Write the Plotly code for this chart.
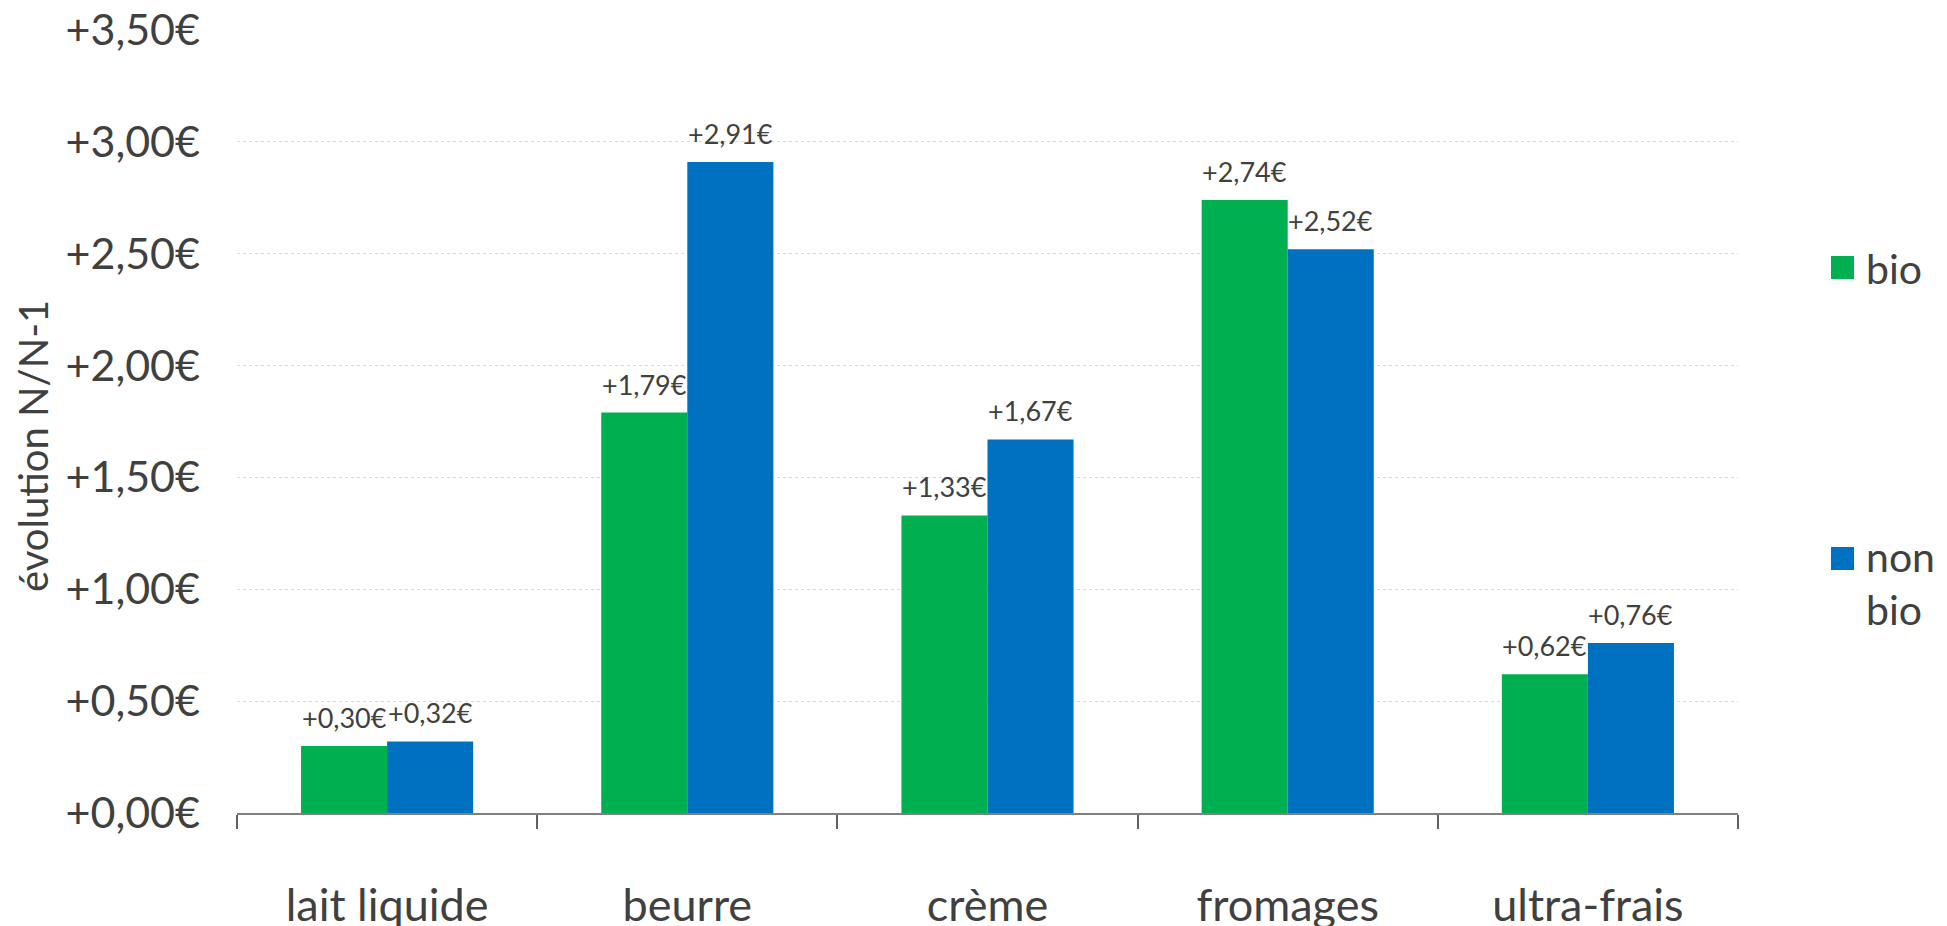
import plotly.graph_objects as go

categories = ["lait liquide", "beurre", "crème", "fromages", "ultra-frais"]
series_names = ["bio", "non bio"]
bio_values = [0.30, 1.79, 1.33, 2.74, 0.62]
nonbio_values = [0.32, 2.91, 1.67, 2.52, 0.76]
tick_vals = [0, 0.5, 1.0, 1.5, 2.0, 2.5, 3.0, 3.5]
tick_text = ["+0,00€", "+0,50€", "+1,00€", "+1,50€", "+2,00€", "+2,50€", "+3,00€", "+3,50€"]
y_title = "évolution N/N-1"

colors = ["#00B050", "#0070C0"]
text_color = "#404040"
FONT = "Lato"

W, H = 1947, 926
ML, MR, MT, MB = 237, 209, 30, 113
plot_w = W - ML - MR
plot_h = H - MT - MB
bargap = 0.4267

def fmt(v):
    return "+" + f"{v:.2f}".replace(".", ",") + "€"

fig = go.Figure()
all_series = [bio_values, nonbio_values]
for name, vals, col in zip(series_names, all_series, colors):
    fig.add_trace(go.Bar(
        x=categories, y=vals, name=name,
        marker=dict(color=col, line=dict(width=0)),
        showlegend=False,
    ))

# data labels
cat_px = plot_w / len(categories)
bar_px = (1 - bargap) * cat_px / len(all_series)
annotations = []
for i, vals in enumerate(all_series):
    off = (i - (len(all_series) - 1) / 2) * bar_px
    for c, v in zip(categories, vals):
        annotations.append(dict(
            x=c, y=v, xref="x", yref="y", text=fmt(v), showarrow=False,
            xanchor="center", yanchor="bottom", xshift=off, yshift=10,
            font=dict(family=FONT, size=27, color=text_color),
        ))

# y axis title
annotations.append(dict(
    x=0, y=(813 - 446) / plot_h, xref="paper", yref="paper", text=y_title,
    showarrow=False, textangle=-90, xanchor="center", yanchor="middle",
    xshift=-(ML - 33), font=dict(family=FONT, size=40, color=text_color),
))

def px_x(p):
    return (p - ML) / plot_w

def px_y(p):
    return (MT + plot_h - p) / plot_h

# manual legend
shapes = []
legend_rows = [(256, 279, 268, "bio"), (547, 570, 583, "non<br>bio")]
for (top, bot, tc, label), col in zip(legend_rows, colors):
    shapes.append(dict(type="rect", xref="paper", yref="paper",
                       x0=px_x(1831), x1=px_x(1854), y0=px_y(bot), y1=px_y(top),
                       fillcolor=col, line=dict(width=0)))
    annotations.append(dict(x=px_x(1864), y=px_y(tc), xref="paper", yref="paper",
                            text=label, showarrow=False, xanchor="left", yanchor="middle",
                            align="left", font=dict(family=FONT, size=41, color=text_color)))

fig.update_layout(
    width=W, height=H,
    margin=dict(l=ML, r=MR, t=MT, b=MB, autoexpand=False),
    paper_bgcolor="white", plot_bgcolor="white",
    barmode="group", bargap=bargap, bargroupgap=0,
    font=dict(family=FONT, color=text_color),
    annotations=annotations, shapes=shapes,
    showlegend=False,
)
fig.update_xaxes(
    type="category", showline=True, linecolor="#808080", linewidth=1.5,
    ticks="outside", tickson="boundaries", ticklen=14, tickcolor="#606060", tickwidth=1.5,
    tickfont=dict(family=FONT, size=45, color=text_color),
    ticklabelstandoff=52, showgrid=False, zeroline=False,
)
fig.update_yaxes(
    range=[0, 3.5], tickvals=tick_vals, ticktext=tick_text,
    tickfont=dict(family=FONT, size=43, color=text_color),
    ticklabelstandoff=36, showline=False, ticks="",
    showgrid=True, gridcolor="#d9d9d9", gridwidth=1, griddash="dot",
    zeroline=False,
)

fig.write_html("out.html")
